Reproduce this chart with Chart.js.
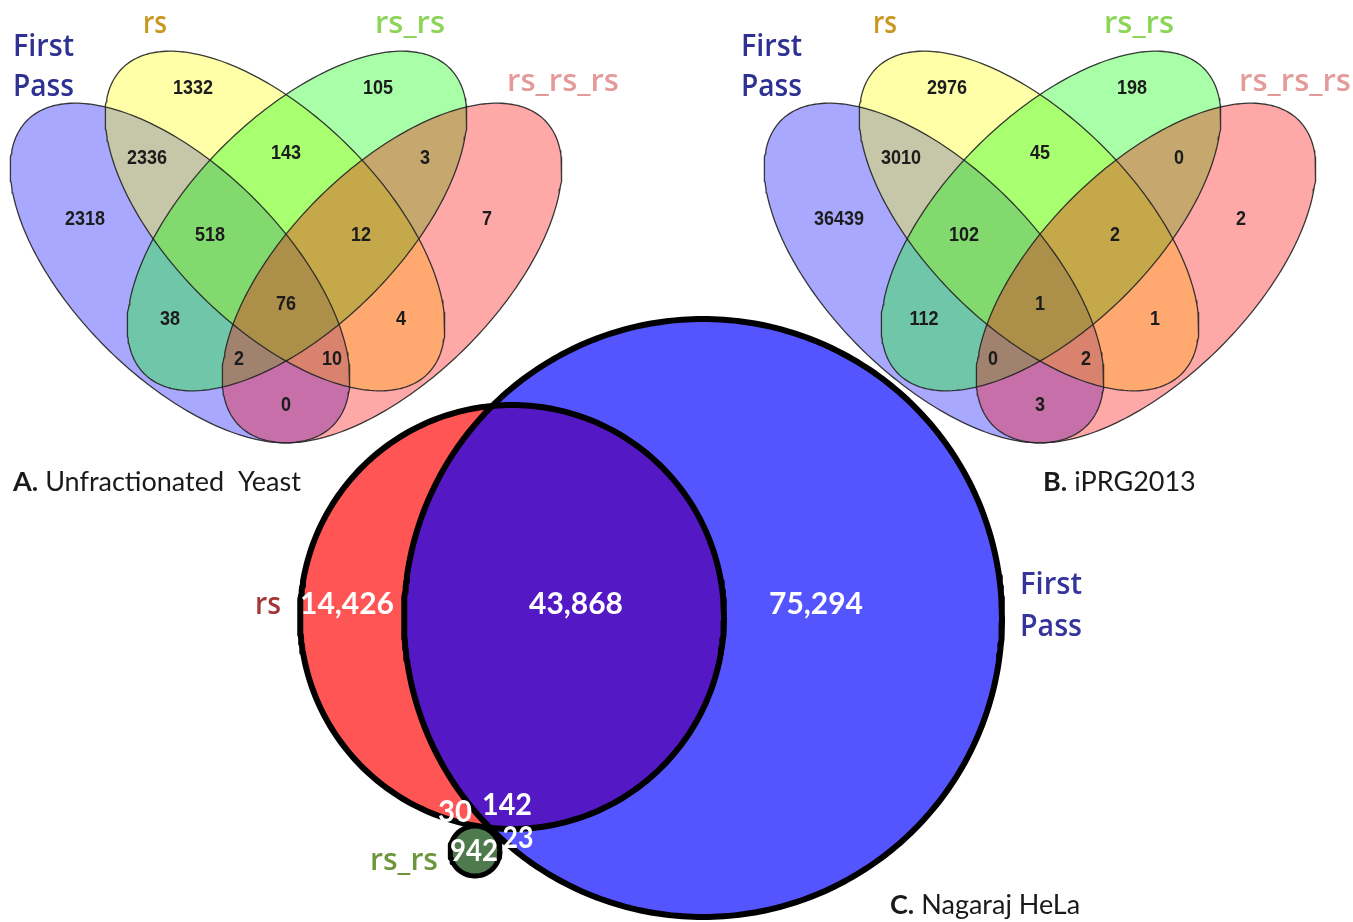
<!DOCTYPE html>
<html>
<head>
<meta charset="utf-8">
<title>Peptide overlap between search passes</title>
<script src="https://cdn.jsdelivr.net/npm/chart.js@4.4.1/dist/chart.umd.min.js"></script>
<style>
  html, body { margin: 0; padding: 0; background: #ffffff; overflow: hidden; }
  #wrap { width: 1353px; height: 922px; }
</style>
</head>
<body>
<div id="wrap"><canvas id="venn" width="1353" height="922"></canvas></div>
<script>
// ---------------- data ----------------
// four-set panels: region order A=First Pass, B=rs, C=rs_rs, D=rs_rs_rs
const quadSets = ['First Pass', 'rs', 'rs_rs', 'rs_rs_rs'];
const quadRegions = ['A', 'B', 'C', 'D', 'AB', 'BC', 'CD', 'AD', 'ABC', 'BCD', 'AC', 'BD', 'ACD', 'ABD', 'ABCD'];
const yeastCounts = [2318, 1332, 105, 7, 2336, 143, 3, 0, 518, 12, 38, 4, 2, 10, 76];
const iprgCounts = [36439, 2976, 198, 2, 3010, 45, 0, 3, 102, 2, 112, 1, 0, 2, 1];

// three-set panel (HeLa)
const helaSets = ['rs', 'First Pass', 'rs_rs'];
const helaRegions = ['rs only', 'rs & First Pass', 'First Pass only', 'rs & rs_rs', 'all three', 'First Pass & rs_rs', 'rs_rs only'];
const helaCounts = [14426, 43868, 75294, 30, 142, 23, 942];

const panelTitles = [['A.', 'Unfractionated  Yeast'], ['B.', 'iPRG2013'], ['C.', 'Nagaraj HeLa']];

// ---------------- layout ----------------
const W = 1353, H = 922;

// four identical ellipses, placed relative to each panel's axis of symmetry
const QUAD_MAJOR = 216, QUAD_MINOR = 105;
const quadEllipses = [
  { dx: -106, cy: 273, rot: 45 },
  { dx: -11, cy: 221, rot: 45 },
  { dx: 11, cy: 221, rot: -45 },
  { dx: 106, cy: 273, rot: -45 }
];
const quadFills = ['rgba(0,0,255,0.34)', 'rgba(255,255,0,0.34)', 'rgba(0,255,0,0.34)', 'rgba(255,0,0,0.34)'];
const quadSetColors = ['#2E3192', '#C9961E', '#8DD558', '#E59A9A'];
const quadAxes = [286, 1040];
// label spot of every region, relative to the panel axis
const quadRegionOffsets = [
  [-201, 218], [-93, 87], [92, 87], [201, 218],
  [-139, 157], [0, 152], [139, 157], [0, 404],
  [-76, 234], [75, 234], [-116, 318], [115, 318],
  [-47, 358], [46, 358], [0, 303]
];
// set-name spots: First/Pass left edge + two baselines, then centres of the other three
const quadNameSpots = [
  { first: [13, 56, 96], others: [[155, 33, 24], [410, 33, 70], [563, 91, 114]] },
  { first: [741, 56, 96], others: [[885, 33, 24], [1139, 33, 70], [1295, 91, 114]] }
];
const captionSpots = [[13, 491], [1043, 491], [890, 914]];

// HeLa circles
const helaCircles = {
  rs: { cx: 512, cy: 617, r: 212 },
  first: { cx: 703, cy: 618, r: 299 },
  rsrs: { cx: 475, cy: 851, r: 25 }
};
const helaColors = { rs: '#FF5555', first: '#5555FF', both: '#5419C4', rsrs: '#4E7A4E' };
const helaCountSpots = [[347, 614, 95], [576, 614, 95], [816, 614, 95], [455, 822, 34], [507, 815, 50], [518, 848, 31], [474, 861, 48]];

// ---------------- geometry helpers ----------------
function ellipsePoints(cx, cy, a, b, deg, n) {
  const r = deg * Math.PI / 180, c = Math.cos(r), s = Math.sin(r), pts = [];
  for (let i = 0; i <= n; i++) {
    const t = 2 * Math.PI * i / n;
    const u = a * Math.cos(t), v = b * Math.sin(t);
    pts.push({ x: cx + u * c - v * s, y: cy + u * s + v * c });
  }
  return pts;
}
function arcPoints(cx, cy, r, t0, t1, n) {
  const pts = [];
  for (let i = 0; i <= n; i++) {
    const t = t0 + (t1 - t0) * i / n;
    pts.push({ x: cx + r * Math.cos(t), y: cy + r * Math.sin(t) });
  }
  return pts;
}
// lens shared by two circles
function lensPoints(c1, c2, n) {
  const dx = c2.cx - c1.cx, dy = c2.cy - c1.cy, d = Math.hypot(dx, dy);
  const al = Math.atan2(dy, dx);
  const p1 = Math.acos((d * d + c1.r * c1.r - c2.r * c2.r) / (2 * d * c1.r));
  const p2 = Math.acos((d * d + c2.r * c2.r - c1.r * c1.r) / (2 * d * c2.r));
  const a = arcPoints(c1.cx, c1.cy, c1.r, al - p1, al + p1, n);
  const b = arcPoints(c2.cx, c2.cy, c2.r, al + Math.PI - p2, al + Math.PI + p2, n);
  return a.concat(b, [a[0]]);
}

// ---------------- datasets ----------------
const datasets = [];
function addShape(pts, fill, stroke, width) {
  datasets.push({
    data: pts,
    fill: fill ? 'shape' : false,
    backgroundColor: fill || 'rgba(0,0,0,0)',
    borderColor: stroke || 'rgba(0,0,0,0)',
    borderWidth: stroke ? width : 1,
    borderJoinStyle: 'round',
    pointRadius: 0,
    pointHoverRadius: 0,
    tension: 0,
    order: -datasets.length
  });
}

quadAxes.forEach(axis => {
  quadEllipses.forEach((e, i) => addShape(ellipsePoints(axis + e.dx, e.cy, QUAD_MAJOR, QUAD_MINOR, e.rot, 240), quadFills[i]));
  quadEllipses.forEach(e => addShape(ellipsePoints(axis + e.dx, e.cy, QUAD_MAJOR, QUAD_MINOR, e.rot, 240), null, 'rgba(35,35,35,0.9)', 1.3));
});

const cR = helaCircles.rs, cF = helaCircles.first, cG = helaCircles.rsrs;
addShape(ellipsePoints(cR.cx, cR.cy, cR.r, cR.r, 0, 300), helaColors.rs);
addShape(ellipsePoints(cF.cx, cF.cy, cF.r, cF.r, 0, 360), helaColors.first);
addShape(lensPoints(cR, cF, 160), helaColors.both);
addShape(ellipsePoints(cR.cx, cR.cy, cR.r, cR.r, 0, 300), null, '#000000', 6);
addShape(ellipsePoints(cF.cx, cF.cy, cF.r, cF.r, 0, 360), null, '#000000', 6);
addShape(ellipsePoints(cG.cx, cG.cy, cG.r, cG.r, 0, 90), helaColors.rsrs, '#000000', 5);

// ---------------- text ----------------
const NAME_FONT = '600 31px "Open Sans", sans-serif';
const texts = [];
quadAxes.forEach((axis, p) => {
  const counts = p === 0 ? yeastCounts : iprgCounts;
  counts.forEach((v, i) => texts.push({
    text: String(v), x: axis + quadRegionOffsets[i][0], y: quadRegionOffsets[i][1] + 6.5,
    font: 'bold 18px "Liberation Sans", Arial, sans-serif', color: '#1c1c1c', align: 'center', tall: 1.08
  }));
  const spot = quadNameSpots[p];
  const [fp1, fp2] = quadSets[0].split(' ');
  texts.push({ text: fp1, x: spot.first[0], y: spot.first[1], font: NAME_FONT, color: quadSetColors[0], align: 'left', max: 61 });
  texts.push({ text: fp2, x: spot.first[0], y: spot.first[2], font: NAME_FONT, color: quadSetColors[0], align: 'left', max: 61 });
  spot.others.forEach((o, k) => texts.push({
    text: quadSets[k + 1], x: o[0], y: o[1], font: NAME_FONT, color: quadSetColors[k + 1], align: 'center', max: o[2]
  }));
});

helaCounts.forEach((v, i) => {
  const s = helaCountSpots[i];
  texts.push({ text: v.toLocaleString('en-US'), x: s[0], y: s[1], font: 'bold 30px Lato, sans-serif', color: '#ffffff', align: 'center', max: s[2] });
});
texts.push({ text: helaSets[0], x: 268, y: 614, font: NAME_FONT, color: '#A33838', align: 'center', max: 26 });
const [hf1, hf2] = helaSets[1].split(' ');
texts.push({ text: hf1, x: 1020, y: 594, font: NAME_FONT, color: '#34349C', align: 'left', max: 62 });
texts.push({ text: hf2, x: 1020, y: 636, font: NAME_FONT, color: '#34349C', align: 'left', max: 62 });
texts.push({ text: helaSets[2], x: 404, y: 870, font: NAME_FONT, color: '#6E963C', align: 'center', max: 68 });

const captionPlugin = {
  id: 'vennText',
  afterDatasetsDraw(chart) {
    const { ctx, scales: { x, y } } = chart;
    ctx.save();
    ctx.textBaseline = 'alphabetic';
    texts.forEach(t => {
      ctx.font = t.font;
      ctx.fillStyle = t.color;
      ctx.textAlign = t.align;
      const px = x.getPixelForValue(t.x), py = y.getPixelForValue(t.y);
      ctx.save();
      ctx.translate(px, py);
      if (t.tall) ctx.scale(1, t.tall);
      if (t.max) ctx.fillText(t.text, 0, 0, t.max); else ctx.fillText(t.text, 0, 0);
      ctx.restore();
    });
    panelTitles.forEach((pt, i) => {
      const px = x.getPixelForValue(captionSpots[i][0]), py = y.getPixelForValue(captionSpots[i][1]);
      ctx.textAlign = 'left';
      ctx.fillStyle = '#1a1a1a';
      ctx.font = 'bold 27px Lato, sans-serif';
      ctx.fillText(pt[0], px, py);
      const w = ctx.measureText(pt[0]).width;
      ctx.font = '27px Lato, sans-serif';
      ctx.fillText(pt[1], px + w + 7, py);
    });
    ctx.restore();
  }
};

new Chart(document.getElementById('venn'), {
  type: 'line',
  data: { datasets },
  options: {
    responsive: false,
    animation: false,
    events: [],
    layout: { padding: 0 },
    scales: {
      x: { type: 'linear', min: 0, max: W, display: false },
      y: { type: 'linear', min: 0, max: H, reverse: true, display: false }
    },
    plugins: {
      legend: { display: false },
      tooltip: { enabled: false },
      filler: { propagate: false }
    }
  },
  plugins: [captionPlugin]
});
</script>
</body>
</html>
